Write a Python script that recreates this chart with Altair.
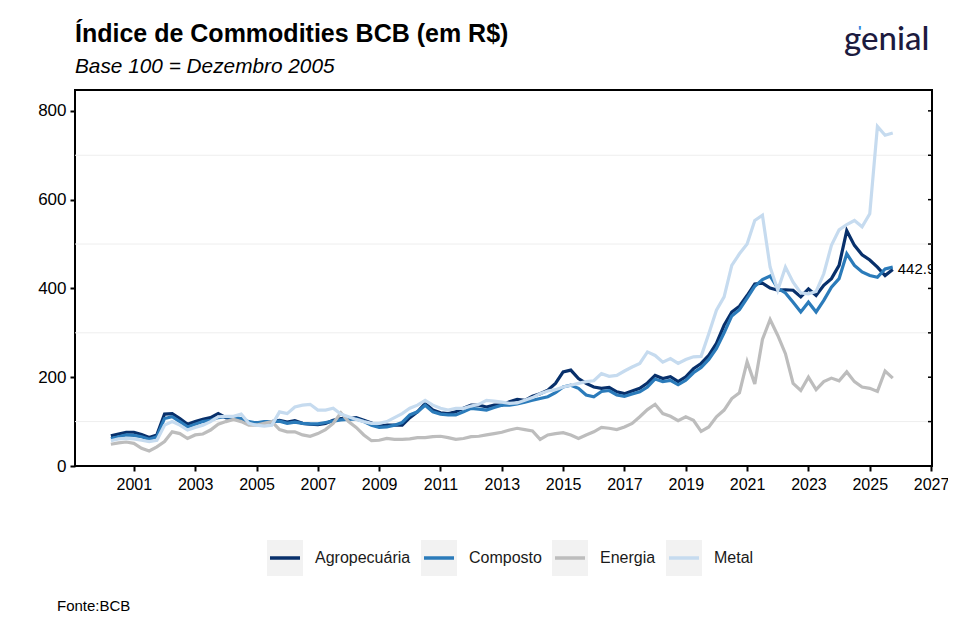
import altair as alt
import pandas as pd

# ---------------- data (quarterly readings, Base 100 = Dez/2005) ----------------
t_start = 2000.25
t_step = 0.25

series_names = ["Agropecuária", "Composto", "Energia", "Metal"]
series_colors = ["#08306B", "#2B7BBA", "#BDBDBD", "#C6DBEF"]

agro = [68, 72, 76, 76, 71, 64, 70, 117, 118, 107, 94, 100, 105, 109, 118, 109,
        106, 103, 97, 97, 97, 100, 103, 99, 102, 96, 94, 93, 96, 103, 107, 107,
        109, 103, 97, 90, 92, 92, 92, 109, 122, 141, 126, 120, 118, 122, 130, 137,
        137, 133, 137, 137, 145, 150, 148, 157, 163, 171, 186, 212, 216, 197, 186, 178,
        175, 177, 167, 163, 169, 175, 187, 204, 197, 201, 190, 201, 219, 231, 249, 276,
        317, 347, 360, 384, 410, 412, 401, 396, 397, 396, 381, 399, 384, 407, 422, 452,
        530, 497, 476, 464, 448, 429, 442.9]

composto = [62, 66, 70, 69, 66, 60, 66, 107, 111, 100, 88, 94, 100, 103, 109, 111,
            109, 107, 100, 97, 100, 100, 101, 96, 99, 96, 95, 95, 98, 101, 104, 105,
            106, 100, 92, 87, 88, 92, 98, 115, 122, 137, 122, 117, 115, 115, 122, 130,
            128, 126, 132, 137, 137, 140, 144, 148, 152, 156, 165, 178, 182, 175, 160, 156,
            168, 170, 160, 157, 162, 167, 178, 196, 190, 193, 183, 193, 210, 222, 240, 265,
            300, 338, 352, 378, 405, 420, 428, 400, 390, 369, 347, 369, 347, 373, 403, 422,
            478, 452, 437, 429, 425, 444, 448]

energia = [49, 52, 54, 51, 40, 34, 43, 55, 77, 73, 62, 70, 72, 81, 94, 100,
           105, 100, 92, 92, 96, 100, 82, 77, 77, 70, 67, 73, 82, 96, 120, 100,
           87, 70, 57, 58, 62, 60, 60, 61, 64, 64, 66, 67, 64, 60, 62, 66,
           67, 70, 73, 76, 81, 85, 82, 79, 60, 70, 73, 75, 70, 62, 70, 77,
           87, 85, 82, 88, 96, 111, 127, 139, 118, 112, 102, 111, 103, 78, 88, 111,
           126, 152, 165, 235, 185, 285, 330, 294, 253, 186, 170, 200, 172, 190, 198, 192,
           212, 190, 178, 175, 168, 214, 198]

metal = [57, 61, 62, 61, 58, 55, 58, 92, 100, 92, 81, 87, 92, 100, 111, 112,
         112, 117, 96, 92, 90, 92, 122, 118, 133, 137, 139, 126, 126, 130, 117, 111,
         105, 100, 96, 96, 100, 109, 118, 130, 137, 148, 137, 130, 126, 130, 130, 135,
         139, 148, 146, 144, 141, 142, 148, 154, 163, 169, 172, 178, 182, 186, 190, 192,
         208, 202, 204, 214, 223, 231, 257, 249, 234, 242, 231, 240, 246, 247, 298, 351,
         381, 452, 478, 500, 553, 565, 448, 396, 448, 414, 390, 388, 393, 433, 497, 532,
         544, 553, 539, 568, 765, 745, 750]

x_ticks = list(range(2001, 2028, 2))
y_ticks = [0, 200, 400, 600, 800]
y_minor_grid = [100, 300, 500, 700]
y_right_ticks = list(range(0, 801, 100))

title_text = "Índice de Commodities BCB (em R$)"
subtitle_text = "Base 100 = Dezembro 2005"
source_text = "Fonte:BCB"
logo_text = "genial"

# ---------------- layout constants (pixels, not data) ----------------
W, H = 857, 376
FONT = "Liberation Sans"
legend_left = [192, 346, 477, 591]   # left edge of each legend key, plot coords
KEY = 36
LEG_TOP = 450

# ---------------- tables ----------------
times = [t_start + t_step * i for i in range(len(agro))]
rows = []
for name, vals in zip(series_names, [agro, composto, energia, metal]):
    for t, v in zip(times, vals):
        rows.append({"t": t, "v": v, "serie": name})
df = pd.DataFrame(rows)

leg_df = pd.DataFrame({
    "serie": series_names,
    "bx": legend_left,
    "bx2": [b + KEY for b in legend_left],
    "lx": [b + 3 for b in legend_left],
    "lx2": [b + KEY - 3 for b in legend_left],
    "tx": [b + KEY + 12 for b in legend_left],
})

x_scale = alt.Scale(domain=[1999.08, 2027.03], nice=False, zero=False)
y_scale = alt.Scale(domain=[0, 847], nice=False, zero=False)
color_scale = alt.Scale(domain=series_names, range=series_colors)

x_axis = alt.Axis(values=x_ticks, format="d", title=None, grid=False,
                  domain=False, tickSize=5, tickWidth=2, tickColor="black",
                  labelFontSize=16, labelFont=FONT, labelColor="black",
                  labelPadding=5, labelFlush=False)
y_axis = alt.Axis(values=y_ticks, title=None, grid=False, domain=False,
                  tickSize=5, tickWidth=2, tickColor="black",
                  labelFontSize=17, labelFont=FONT, labelColor="black",
                  labelPadding=4)

grid = alt.Chart(pd.DataFrame({"g": y_minor_grid})).mark_rule(
    color="#EEEEEE", strokeWidth=1
).encode(y=alt.Y("g:Q", scale=y_scale, axis=y_axis))

lines = alt.Chart(df).mark_line(strokeWidth=3.2, clip=True).encode(
    x=alt.X("t:Q", scale=x_scale, axis=x_axis),
    y=alt.Y("v:Q", scale=y_scale, axis=y_axis),
    color=alt.Color("serie:N", scale=color_scale, legend=None),
)

right_ticks = alt.Chart(pd.DataFrame({"r": y_right_ticks})).mark_rule(
    color="black", strokeWidth=1.5
).encode(y=alt.Y("r:Q", scale=y_scale, axis=y_axis), x=alt.value(W - 4), x2=alt.value(W))

end_df = pd.DataFrame({"t": [times[-1]], "v": [agro[-1]], "lab": [f"{agro[-1]:.1f}"]})
end_label = alt.Chart(end_df).mark_text(
    align="left", baseline="middle", dx=5, fontSize=15, font=FONT, color="black", clip=True
).encode(x=alt.X("t:Q", scale=x_scale, axis=x_axis),
         y=alt.Y("v:Q", scale=y_scale, axis=y_axis), text="lab:N")

# manual legend
leg_box = alt.Chart(leg_df).mark_rect(color="#F2F2F2").encode(
    x=alt.X("bx:Q", scale=None), x2="bx2:Q",
    y=alt.value(LEG_TOP), y2=alt.value(LEG_TOP + KEY),
)
leg_line = alt.Chart(leg_df).mark_rule(strokeWidth=3.5).encode(
    x=alt.X("lx:Q", scale=None), x2="lx2:Q",
    y=alt.value(LEG_TOP + KEY / 2),
    color=alt.Color("serie:N", scale=color_scale, legend=None),
)
leg_text = alt.Chart(leg_df).mark_text(
    align="left", baseline="middle", font=FONT, fontSize=16, color="#1a1a1a"
).encode(x=alt.X("tx:Q", scale=None), y=alt.value(LEG_TOP + KEY / 2), text="serie:N")

# titles, logo and source as text marks
title = alt.Chart(pd.DataFrame({"txt": [title_text]})).mark_text(
    align="left", baseline="alphabetic", font=FONT, fontSize=25, fontWeight="bold",
    color="black"
).encode(x=alt.value(0), y=alt.value(-48), text="txt:N")

subtitle = alt.Chart(pd.DataFrame({"txt": [subtitle_text]})).mark_text(
    align="left", baseline="alphabetic", font=FONT, fontSize=20.8, fontStyle="italic",
    color="black"
).encode(x=alt.value(0), y=alt.value(-17), text="txt:N")

logo = alt.Chart(pd.DataFrame({"txt": [logo_text]})).mark_text(
    align="left", baseline="alphabetic", font="Lato", fontSize=33, fontWeight=500,
    color="#1C1B3F"
).encode(x=alt.value(769), y=alt.value(-40), text="txt:N")

logo_accent = alt.Chart(pd.DataFrame({"txt": ["'"]})).mark_text(
    align="left", baseline="alphabetic", font=FONT, fontSize=15, fontWeight="bold",
    color="#2E86DE"
).encode(x=alt.value(783), y=alt.value(-54), text="txt:N")

source = alt.Chart(pd.DataFrame({"txt": [source_text]})).mark_text(
    align="left", baseline="alphabetic", font=FONT, fontSize=15, color="black"
).encode(x=alt.value(-18), y=alt.value(521), text="txt:N")

chart = alt.layer(
    grid, lines, right_ticks, end_label, leg_box, leg_line, leg_text,
    title, subtitle, logo, logo_accent, source
).properties(
    width=W, height=H,
    autosize=alt.AutoSizeParams(type="none"),
    padding={"left": 67, "top": 82, "right": 16, "bottom": 150},
    background="white",
).configure_view(
    stroke="black", strokeWidth=2
)

chart.save("out.html", embed_options={"renderer": "svg", "actions": False})
